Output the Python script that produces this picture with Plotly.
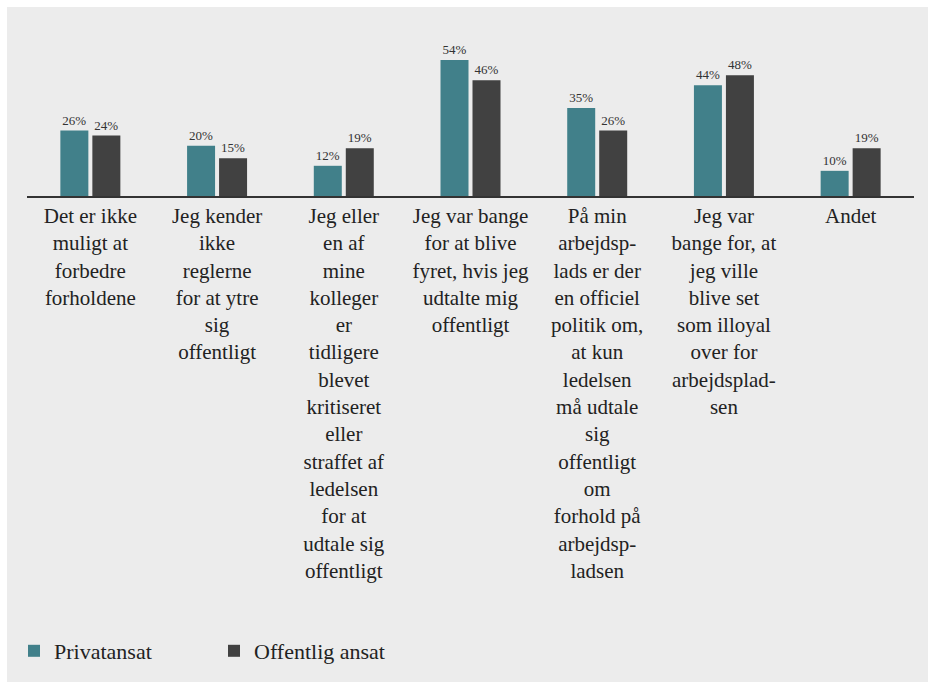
import plotly.graph_objects as go

categories = [
    "Det er ikke<br>muligt at<br>forbedre<br>forholdene",
    "Jeg kender<br>ikke<br>reglerne<br>for at ytre<br>sig<br>offentligt",
    "Jeg eller<br>en af<br>mine<br>kolleger<br>er<br>tidligere<br>blevet<br>kritiseret<br>eller<br>straffet af<br>ledelsen<br>for at<br>udtale sig<br>offentligt",
    "Jeg var bange<br>for at blive<br>fyret, hvis jeg<br>udtalte mig<br>offentligt",
    "På min<br>arbejdsp-<br>lads er der<br>en officiel<br>politik om,<br>at kun<br>ledelsen<br>må udtale<br>sig<br>offentligt<br>om<br>forhold på<br>arbejdsp-<br>ladsen",
    "Jeg var<br>bange for, at<br>jeg ville<br>blive set<br>som illoyal<br>over for<br>arbejdsplad-<br>sen",
    "Andet",
]
privatansat = [26, 20, 12, 54, 35, 44, 10]
offentlig = [24, 15, 19, 46, 26, 48, 19]
series_names = ["Privatansat", "Offentlig ansat"]

TEAL = "#41808A"
DARK = "#414141"
BG = "#ECECEC"
FONT = "Liberation Serif"

fig = go.Figure()
for name, vals, col in [(series_names[0], privatansat, TEAL), (series_names[1], offentlig, DARK)]:
    fig.add_trace(go.Bar(
        name=name, x=categories, y=vals,
        marker=dict(color=col, line=dict(width=0)),
        text=[f"{v}%" for v in vals], textposition="outside",
        textfont=dict(family=FONT, size=13, color="#333333"),
        cliponaxis=False,
    ))

W, H = 928, 682
ml, mr, mt, mb = 27, 14, 45, 486
pw = W - ml - mr
ph = H - mt - mb

fig.update_layout(
    width=W, height=H,
    margin=dict(l=ml, r=mr, t=mt, b=mb, autoexpand=False),
    paper_bgcolor="white", plot_bgcolor=BG,
    barmode="group", bargap=0.495, bargroupgap=0.125,
    font=dict(family=FONT, color="#222222"),
    showlegend=True,
    legend=dict(
        orientation="h",
        xref="container", yref="container",
        x=14 / W, xanchor="left", y=1 - 651 / H, yanchor="middle",
        font=dict(family=FONT, size=22, color="#222222"),
        bgcolor="rgba(0,0,0,0)", entrywidth=155, entrywidthmode="pixels",
        itemwidth=30, traceorder="normal",
    ),
    xaxis=dict(
        showline=True, linecolor="#333333", linewidth=1.5,
        tickfont=dict(family=FONT, size=21, color="#222222"),
        ticks="", showgrid=False, zeroline=False, automargin=False,
    ),
    yaxis=dict(range=[0, 60], visible=False, showgrid=False, zeroline=False),
    shapes=[dict(
        type="rect", xref="paper", yref="paper", layer="below",
        x0=(7 - ml) / pw, x1=(W + 5 - ml) / pw,
        y0=-(H + 5 - (H - mb)) / ph, y1=((H - mb) - 7) / ph,
        fillcolor=BG, line=dict(width=0),
    )],
)

fig.write_html(
    "out.html",
    config={"displayModeBar": False},
    post_script="document.body.style.margin='0';document.body.style.padding='0';",
)
